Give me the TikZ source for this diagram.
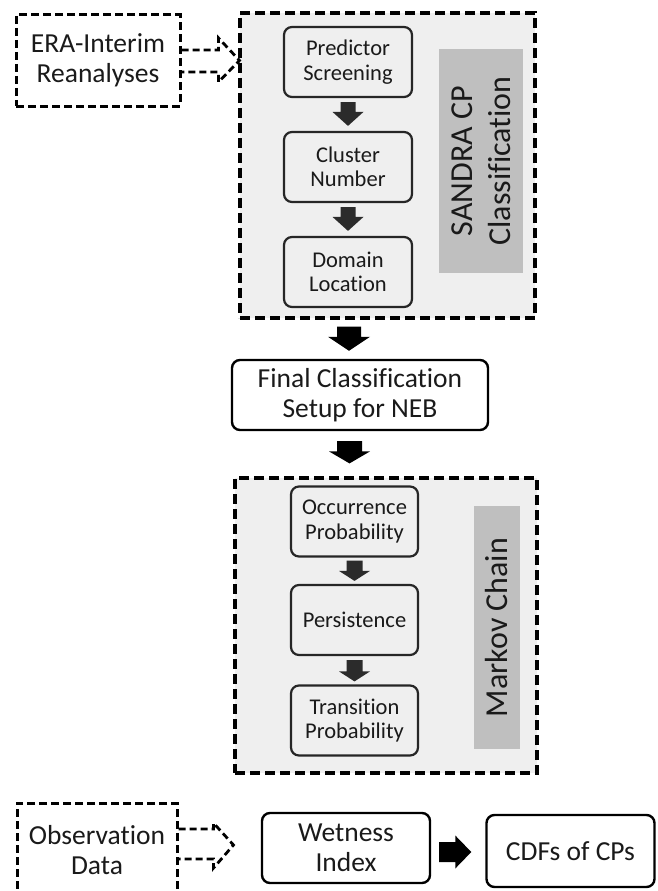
\documentclass[tikz,border=0pt]{standalone}
\usepackage{fontspec}
\setmainfont{Carlito}[Ligatures=NoCommon]
\usetikzlibrary{calc}
\definecolor{contfill}{HTML}{EFEFEF}
\definecolor{lblfill}{HTML}{BFBFBF}
\definecolor{darkarrow}{HTML}{2B2B2B}
\definecolor{txt}{HTML}{1A1A1A}
% block arrow pointing down: #1 start, #2 tip, #3 shaft half width, #4 head half width, #5 head length, #6 colour
\newcommand{\blkdown}[6]{%
  \fill[#6] let \p1=(#1), \p2=(#2) in
    (\x1-#3,\y1) -- (\x1+#3,\y1) -- (\x1+#3,\y2+#5) -- (\x1+#4,\y2+#5) --
    (\x1,\y2) -- (\x1-#4,\y2+#5) -- (\x1-#3,\y2+#5) -- cycle;}
% block arrow pointing right
\newcommand{\blkright}[6]{%
  \fill[#6] let \p1=(#1), \p2=(#2) in
    (\x1,\y1-#3) -- (\x1,\y1+#3) -- (\x2-#5,\y1+#3) -- (\x2-#5,\y1+#4) --
    (\x2,\y1) -- (\x2-#5,\y1-#4) -- (\x2-#5,\y1-#3) -- cycle;}
\begin{document}
\begin{tikzpicture}[x=1pt,y=-1pt,
  container/.style={draw=black, fill=contfill, line width=3.2pt, dash pattern=on 10pt off 5pt},
  srcbox/.style={draw=black, line width=3pt, dash pattern=on 8pt off 4pt, align=center,
    font=\fontsize{27.5}{30}\selectfont, text=txt, inner sep=0pt},
  inbox/.style={draw=black!85, fill=contfill, line width=2.2pt, rounded corners=8pt, align=center,
    font=\fontsize{22.5}{24.5}\selectfont, text=txt, minimum width=127pt, minimum height=70pt, inner sep=0pt},
  mainbox/.style={draw=black, fill=white, line width=2.4pt, rounded corners=8pt, align=center,
    font=\fontsize{27.5}{30}\selectfont, text=txt, inner sep=0pt},
  lbl/.style={fill=lblfill, rotate=90, align=center, font=\fontsize{32}{38}\selectfont, text=txt, inner sep=0pt},
  dsh/.style={draw=black, line width=2.8pt, dash pattern=on 7pt off 4pt},
]
\clip (0,0) rectangle (657,891);
\fill[white] (0,0) rectangle (657,891);

% ---- SANDRA container ----
\node[container, minimum width=295pt, minimum height=305pt, inner sep=0pt] (sandra) at (387.5,165.5) {};
\node[inbox, minimum width=128pt] (pred) at (348,62) {Predictor\\Screening};
\node[inbox, minimum width=128pt] (clus) at (348,167) {Cluster\\Number};
\node[inbox, minimum width=128pt] (dom)  at (348,272) {Domain\\Location};
\node[lbl, minimum width=224pt, minimum height=84pt] (slbl) at (481,161) {SANDRA CP\\Classification};

\coordinate (a1s) at ($(pred.south)+(0,4)$);
\coordinate (a1e) at ($(clus.north)+(0,-5)$);
\coordinate (a2s) at ($(clus.south)+(0,4)$);
\coordinate (a2e) at ($(dom.north)+(0,-5)$);
\blkdown{a1s}{a1e}{7.5}{15.5}{14}{darkarrow}
\blkdown{a2s}{a2e}{7.5}{15.5}{14}{darkarrow}

% ---- ERA-Interim source ----
\node[srcbox, minimum width=164pt, minimum height=91pt] (era) at (98,60.5) {ERA-Interim\\Reanalyses};
\draw[dsh] ($(era.east)+(0,-10.5)$) -- ++(37,0) -- ++(0,-12) -- ($(era.east)+(58,0)$)
  -- ($(era.east)+(37,21.5)$) -- ++(0,-10) -- ($(era.east)+(0,11.5)$);

% ---- Final classification ----
\node[mainbox, minimum width=256pt, minimum height=70pt] (final) at (360,395) {Final Classification\\Setup for NEB};
\coordinate (a3s) at ($(dom.south |- sandra.south)+(1,7)$);
\coordinate (a3e) at ($(dom.south |- final.north)+(1,-8)$);
\blkdown{a3s}{a3e}{12}{21}{14}{black}

% ---- Markov container ----
\node[container, minimum width=302pt, minimum height=295pt, inner sep=0pt] (markov) at (386,625.5) {};
\node[inbox] (occ)   at (354.5,521.5) {Occurrence\\Probability};
\node[inbox] (pers)  at (354.5,620) {Persistence};
\node[inbox] (trans) at (354.5,720.5) {Transition\\Probability};
\node[lbl, minimum width=243pt, minimum height=46pt] (mlbl) at (497,627.5) {Markov Chain};

\coordinate (a4s) at ($(final.south -| dom.south)+(1.5,10)$);
\coordinate (a4e) at ($(markov.north -| dom.south)+(1.5,-13)$);
\blkdown{a4s}{a4e}{12.5}{20.5}{12}{black}

\coordinate (a5s) at ($(occ.south)+(0,3)$);
\coordinate (a5e) at ($(pers.north)+(0,-3)$);
\coordinate (a6s) at ($(pers.south)+(0,4)$);
\coordinate (a6e) at ($(trans.north)+(0,-3)$);
\blkdown{a5s}{a5e}{8}{15.5}{10}{darkarrow}
\blkdown{a6s}{a6e}{8}{15.5}{10}{darkarrow}

% ---- Bottom row ----
\node[srcbox, minimum width=160pt, minimum height=94pt] (obs) at (97,850) {Observation\\Data};
\draw[dsh] ($(obs.east)+(0,-21)$) -- ++(35,0) -- ++(0,-6) -- ($(obs.east)+(55,-5)$)
  -- ($(obs.east)+(35,18)$) -- ++(0,-9) -- ($(obs.east)+(0,9)$);

\node[mainbox, minimum width=168pt, minimum height=70pt] (wet) at (346,848) {Wetness\\Index};
\node[mainbox, minimum width=168pt, minimum height=72pt] (cdf) at (570.5,851) {CDFs of CPs};
\coordinate (a7s) at ($(wet.east)+(8,4)$);
\coordinate (a7e) at ($(cdf.west)+(-14,1)$);
\blkright{a7s}{a7e}{10}{16.5}{16}{black}
\end{tikzpicture}
\end{document}
